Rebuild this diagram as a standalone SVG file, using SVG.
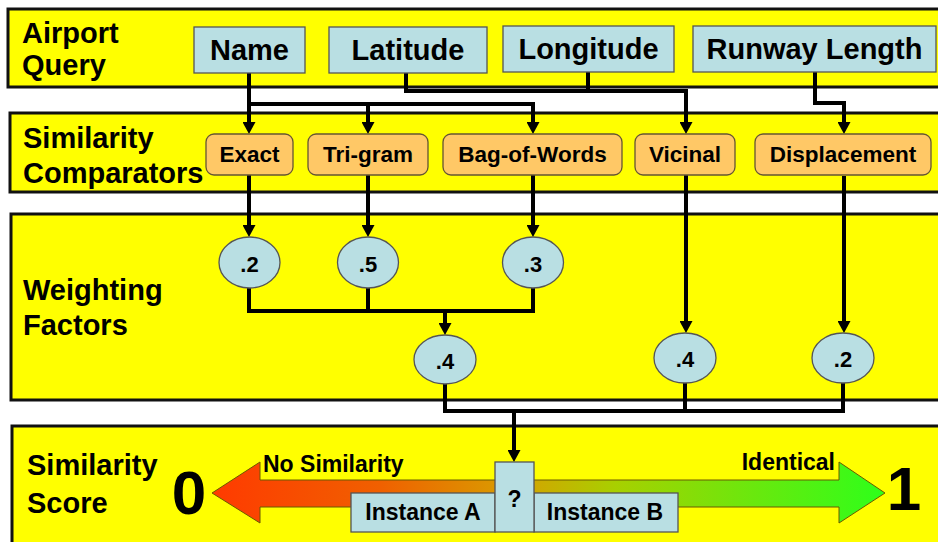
<svg xmlns="http://www.w3.org/2000/svg" width="938" height="542" viewBox="0 0 938 542">
<style>
.band{fill:#FFFF00;stroke:#111;stroke-width:3}
.lbl{font-family:"Liberation Sans",Arial,sans-serif;font-weight:bold;font-size:29px;fill:#000}
.field{fill:#B9DFE3;stroke:#555;stroke-width:1.3}
.ftxt{font-family:"Liberation Sans",Arial,sans-serif;font-weight:bold;font-size:29px;fill:#000;text-anchor:middle}
.comp{fill:#FFC866;stroke:#665533;stroke-width:1.3}
.ctxt{font-family:"Liberation Sans",Arial,sans-serif;font-weight:bold;font-size:22.5px;fill:#000;text-anchor:middle}
.wt{fill:#B9DFE3;stroke:#555;stroke-width:1.3}
.wtxt{font-family:"Liberation Sans",Arial,sans-serif;font-weight:bold;font-size:22px;fill:#000;text-anchor:middle}
.conn{fill:none;stroke:#000;stroke-width:4;stroke-linejoin:miter}
.arr{marker-end:url(#ah)}
.sm{font-family:"Liberation Sans",Arial,sans-serif;font-weight:bold;font-size:23px;fill:#000}
.big{font-family:"Liberation Sans",Arial,sans-serif;font-weight:bold;font-size:62px;fill:#000;text-anchor:middle}
</style>
<defs>
<marker id="ah" viewBox="0 0 12 13" refX="2" refY="6.5" markerWidth="12" markerHeight="13" orient="auto" markerUnits="userSpaceOnUse">
<path d="M0,0 L12,6.5 L0,13 z" fill="#000"/>
</marker>
<linearGradient id="grad" x1="212" y1="0" x2="885" y2="0" gradientUnits="userSpaceOnUse">
<stop offset="0" stop-color="#FF3A00"/>
<stop offset="0.25" stop-color="#F06000"/>
<stop offset="0.45" stop-color="#D8A000"/>
<stop offset="0.6" stop-color="#A8D000"/>
<stop offset="1" stop-color="#2EFF1A"/>
</linearGradient>
</defs>

<g id="bands">
<rect class="band" x="8" y="9" width="940" height="78"/>
<rect class="band" x="10" y="113" width="940" height="79"/>
<rect class="band" x="11" y="214" width="940" height="186"/>
<rect class="band" x="12" y="426" width="940" height="130"/>
<text class="lbl" x="22" y="43">Airport</text>
<text class="lbl" x="22" y="75">Query</text>
<text class="lbl" x="23" y="148">Similarity</text>
<text class="lbl" x="23" y="183">Comparators</text>
<text class="lbl" x="23" y="300">Weighting</text>
<text class="lbl" x="23" y="335">Factors</text>
<text class="lbl" x="27" y="475">Similarity</text>
<text class="lbl" x="27" y="513">Score</text>
</g>

<g id="connectors">
<path class="conn arr" d="M249,73 V124"/>
<path class="conn arr" d="M249,104 H533 V124"/>
<path class="conn arr" d="M368,104 V124"/>
<path class="conn arr" d="M406,73 V91 H686 V124"/>
<path class="conn" d="M588,72 V91"/>
<path class="conn arr" d="M815,72 V103 H844 V124"/>
<path class="conn arr" d="M249,175 V227"/>
<path class="conn arr" d="M368,175 V227"/>
<path class="conn arr" d="M533,175 V227"/>
<path class="conn arr" d="M686,175 V323"/>
<path class="conn arr" d="M844,176 V323"/>
<path class="conn" d="M249,288 V311 H533 V288"/>
<path class="conn" d="M368,288 V311"/>
<path class="conn arr" d="M445,311 V325"/>
<path class="conn" d="M445,384 V411 H843 V383"/>
<path class="conn" d="M685,383 V411"/>
<path class="conn arr" d="M514,411 V452"/>
</g>

<g id="name"><rect class="field" x="194" y="27" width="111" height="46"/><text class="ftxt" x="249.5" y="60">Name</text></g>
<g id="latitude"><rect class="field" x="329" y="27" width="158" height="46"/><text class="ftxt" x="408" y="60">Latitude</text></g>
<g id="longitude"><rect class="field" x="503" y="26" width="171" height="46"/><text class="ftxt" x="588.5" y="59">Longitude</text></g>
<g id="runway"><rect class="field" x="693" y="26" width="243" height="46"/><text class="ftxt" x="814.5" y="59">Runway Length</text></g>

<g id="exact"><rect class="comp" x="206" y="134" width="87" height="41" rx="8"/><text class="ctxt" x="249.5" y="162">Exact</text></g>
<g id="trigram"><rect class="comp" x="308" y="134" width="120" height="41" rx="8"/><text class="ctxt" x="368" y="162">Tri-gram</text></g>
<g id="bagofwords"><rect class="comp" x="443" y="134" width="179" height="41" rx="8"/><text class="ctxt" x="532.5" y="162">Bag-of-Words</text></g>
<g id="vicinal"><rect class="comp" x="635" y="134" width="100" height="41" rx="8"/><text class="ctxt" x="685" y="162">Vicinal</text></g>
<g id="displacement"><rect class="comp" x="755" y="134" width="176" height="41" rx="8"/><text class="ctxt" x="843" y="162">Displacement</text></g>

<g id="w-exact"><ellipse class="wt" cx="249.5" cy="262.5" rx="30.5" ry="25.5"/><text class="wtxt" x="249.5" y="272">.2</text></g>
<g id="w-trigram"><ellipse class="wt" cx="368" cy="262.5" rx="30.5" ry="25.5"/><text class="wtxt" x="368" y="272">.5</text></g>
<g id="w-bag"><ellipse class="wt" cx="533" cy="262.5" rx="30.5" ry="25.5"/><text class="wtxt" x="533" y="272">.3</text></g>
<g id="w-name"><ellipse class="wt" cx="445" cy="359.5" rx="31" ry="24.5"/><text class="wtxt" x="445" y="369">.4</text></g>
<g id="w-vicinal"><ellipse class="wt" cx="685" cy="358" rx="31" ry="25"/><text class="wtxt" x="685" y="367">.4</text></g>
<g id="w-displacement"><ellipse class="wt" cx="843" cy="358" rx="31" ry="25"/><text class="wtxt" x="843" y="367">.2</text></g>

<g id="score">
<path d="M212,493 L260,462 L260,480 L839,480 L839,462 L885,493 L839,523 L839,507 L260,507 L260,523 Z" fill="url(#grad)" stroke="#6b5a00" stroke-width="1"/>
<text class="big" x="189" y="514">0</text>
<text class="big" x="904" y="510">1</text>
<text class="sm" x="263" y="472">No Similarity</text>
<text class="sm" x="835" y="470" text-anchor="end">Identical</text>
</g>
<g id="instanceA"><rect class="field" x="351" y="493" width="144" height="39"/><text class="sm" x="423" y="520" text-anchor="middle">Instance A</text></g>
<g id="instanceB"><rect class="field" x="534" y="493" width="144" height="39"/><text class="sm" x="605" y="520" text-anchor="middle">Instance B</text></g>
<g id="question"><rect class="field" x="495" y="462" width="39" height="70"/><text class="sm" x="514.5" y="507" text-anchor="middle">?</text></g>
</svg>
